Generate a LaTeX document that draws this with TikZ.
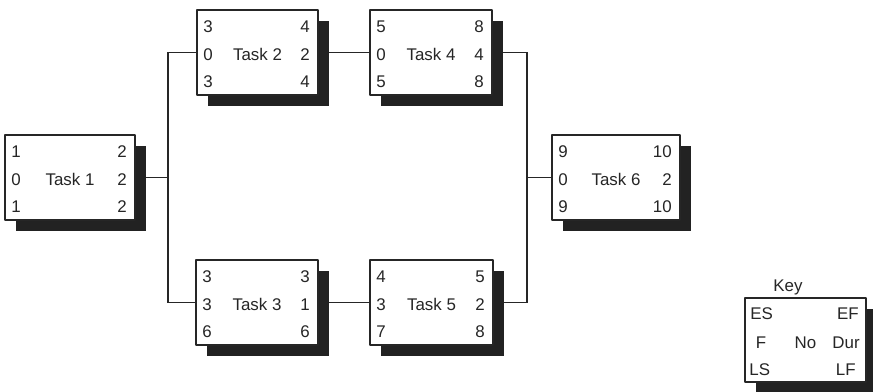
\documentclass[tikz,border=0pt]{standalone}
\usepackage{fontspec}
\setmainfont{Liberation Sans}
\usetikzlibrary{backgrounds}
\usetikzlibrary{shadows}
\definecolor{ink}{RGB}{38,38,38}
\definecolor{shade}{RGB}{34,34,34}

\tikzset{
	taskbox/.style={draw=ink, fill=white, line width=1.7pt, minimum height=85, inner sep=0pt,
		drop shadow={shadow xshift=10.5pt, shadow yshift=-11pt, fill=shade, opacity=1}},
	cell/.style={inner sep=0pt, text=ink},
	link/.style={draw=ink, line width=1.6pt},
}

\begin{document}
\begin{tikzpicture}[x=1pt, y=-1pt]
	\begin{scope}[line join=round, font=\fontsize{16.9}{20}\selectfont]

	\useasboundingbox (0,0) rectangle (873,391);

\foreach \i/\x/\y/\w/\es/\ef/\f/\d/\ls/\lf in
	{1/70/177.5/130/1/2/0/2/1/2,
	 2/257.5/52.5/121/3/4/0/2/3/4,
	 3/257/302.5/122/3/3/3/1/6/6,
	 4/431/52.5/122/5/8/0/4/5/8,
	 5/431.5/302.5/123/4/5/3/2/7/8,
	 6/616/177.5/128/9/10/0/2/9/10}
{
	\node [taskbox, minimum width=\w] (t\i) at (\x,\y) {};
	\node [cell] (t\i-name) at ([yshift=-2pt]t\i.center) {Task \i};
	\node [cell, anchor=west] (t\i-es) at ([xshift=7pt, yshift=25.5pt]t\i.west) {\es};
	\node [cell, anchor=west] (t\i-f)  at ([xshift=7pt, yshift=-2pt]t\i.west) {\f};
	\node [cell, anchor=west] (t\i-ls) at ([xshift=7pt, yshift=-29pt]t\i.west) {\ls};
	\node [cell, anchor=east] (t\i-ef) at ([xshift=-9pt, yshift=25.5pt]t\i.east) {\ef};
	\node [cell, anchor=east] (t\i-d)  at ([xshift=-9pt, yshift=-2pt]t\i.east) {\d};
	\node [cell, anchor=east] (t\i-lf) at ([xshift=-9pt, yshift=-29pt]t\i.east) {\lf};
}

	\node [taskbox, minimum width=121, minimum height=84] (key) at (805.5,340) {};
	\node [cell] (key-title) at (788,287) {Key};
	\node [cell, anchor=west] (key-es) at ([xshift=6pt, yshift=26pt]key.west) {ES};
	\node [cell] (key-f) at ([xshift=17pt, yshift=-3pt]key.west) {F};
	\node [cell] (key-no) at ([yshift=-3pt]key.center) {No};
	\node [cell, anchor=west] (key-ls) at ([xshift=5pt, yshift=-30pt]key.west) {LS};
	\node [cell, anchor=east] (key-ef) at ([xshift=-8pt, yshift=26pt]key.east) {EF};
	\node [cell, anchor=east] (key-dur) at ([xshift=-7pt, yshift=-3pt]key.east) {Dur};
	\node [cell, anchor=east] (key-lf) at ([xshift=-11pt, yshift=-30pt]key.east) {LF};

	\coordinate (lbus) at (168,177.5);
	\coordinate (rbus) at (527,177.5);

	\begin{scope}[on background layer]
	\draw [link] (t1.east) -- (lbus);
	\draw [link] (t2.west) -| (lbus) |- (t3.west);
	\draw [link] (t2.east) -- (t4.west);
	\draw [link] (t3.east) -- (t5.west);
	\draw [link] (t4.east) -| (rbus) |- (t5.east);
	\draw [link] (rbus) -- (t6.west);
	\end{scope}

	\end{scope}
\end{tikzpicture}
\end{document}
